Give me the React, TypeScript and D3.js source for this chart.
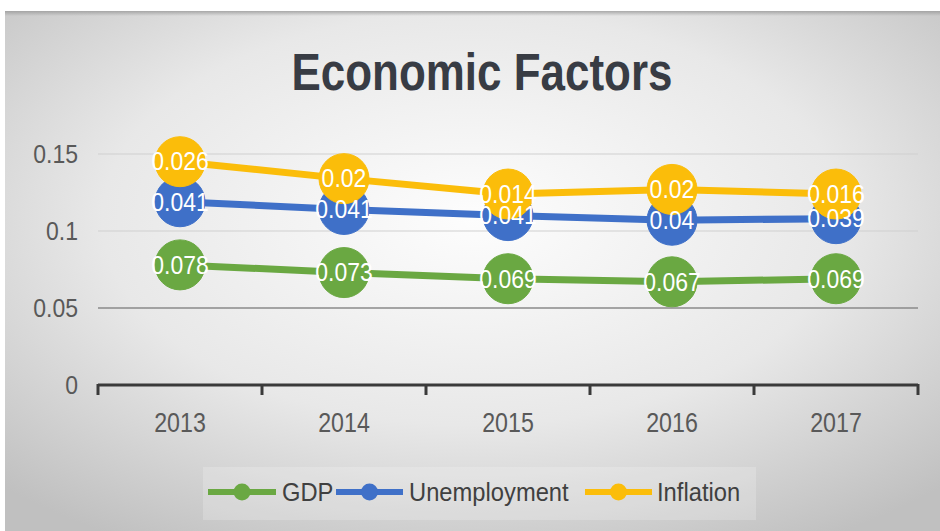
import React from "react";
import * as d3 from "d3";

const years = ["2013", "2014", "2015", "2016", "2017"];
const gdp = [0.078, 0.073, 0.069, 0.067, 0.069];
const unemployment = [0.041, 0.041, 0.041, 0.04, 0.039];
const inflation = [0.026, 0.02, 0.014, 0.02, 0.016];
const seriesNames = ["GDP", "Unemployment", "Inflation"];
const yTicks = [0, 0.05, 0.1, 0.15];
const yTickLabels = ["0", "0.05", "0.1", "0.15"];
const colors = ["#6aa842", "#3f70c8", "#fbbd0a"];

const W = 940;
const H = 531;
const FONT = "'Liberation Sans', Arial, sans-serif";

function NarrowText(props: {
  x: number;
  y: number;
  sx: number;
  anchor?: string;
  size: number;
  fill: string;
  weight?: string;
  children: React.ReactNode;
}) {
  return (
    <g transform={`translate(${props.x},${props.y}) scale(${props.sx},1)`}>
      <text
        x={0}
        y={0}
        dy="0.35em"
        textAnchor={props.anchor || "start"}
        fontFamily={FONT}
        fontSize={props.size}
        fontWeight={props.weight || "normal"}
        fill={props.fill}
      >
        {props.children}
      </text>
    </g>
  );
}

export default function App() {
  const x = d3.scaleBand<string>().domain(years).range([98, 918]);
  const y = d3.scaleLinear().domain([0, 0.15]).range([385, 154]);

  const rows = years.map((yr, i) => ({
    year: yr,
    GDP: gdp[i],
    Unemployment: unemployment[i],
    Inflation: inflation[i],
  }));
  const stacked = d3.stack<any>().keys(seriesNames)(rows);
  const cx = (yr: string) => (x(yr) as number) + x.bandwidth() / 2;
  const line = d3
    .line<any>()
    .x((d) => cx(d.data.year))
    .y((d) => y(d[1]));

  const bounds = [...years.map((yr) => x(yr) as number), x.range()[1]];

  const legendItems = [
    { name: "GDP", l1: 208, l2: 276, tx: 282 },
    { name: "Unemployment", l1: 336, l2: 403, tx: 409 },
    { name: "Inflation", l1: 585, l2: 652, tx: 657 },
  ];

  return (
    <svg
      width={W}
      height={H}
      style={{ position: "absolute", left: 0, top: 0, display: "block" }}
    >
      <defs>
        <radialGradient id="bg" cx="50%" cy="40%" r="72%">
          <stop offset="0%" stopColor="#fdfdfd" />
          <stop offset="55%" stopColor="#e8e8e8" />
          <stop offset="100%" stopColor="#c0c0c0" />
        </radialGradient>
        <linearGradient id="topshade" x1="0" y1="0" x2="0" y2="1">
          <stop offset="0%" stopColor="#9a9a9a" stopOpacity="0.8" />
          <stop offset="100%" stopColor="#9a9a9a" stopOpacity="0" />
        </linearGradient>
      </defs>
      <rect x={0} y={0} width={W} height={H} fill="#ffffff" />
      <rect x={5} y={11} width={W - 5} height={H - 11} fill="url(#bg)" />
      <rect x={5} y={11} width={W - 5} height={5} fill="url(#topshade)" />

      {/* title */}
      <text
        x={482}
        y={90}
        textAnchor="middle"
        fontFamily={FONT}
        fontWeight="bold"
        fontSize={51}
        fill="#383c44"
        textLength={381}
        lengthAdjust="spacingAndGlyphs"
      >
        Economic Factors
      </text>

      {/* gridlines */}
      {yTicks.slice(1).map((t) => (
        <line
          key={"g" + t}
          x1={98}
          x2={918}
          y1={y(t)}
          y2={y(t)}
          stroke={t === 0.05 ? "#8a8a8a" : "#cfcfcf"}
          strokeWidth={t === 0.05 ? 1.6 : 1.2}
        />
      ))}

      {/* y labels */}
      {yTicks.map((t, i) => (
        <NarrowText
          key={"yl" + t}
          x={78}
          y={y(t)}
          sx={0.92}
          anchor="end"
          size={25}
          fill="#595959"
        >
          {yTickLabels[i]}
        </NarrowText>
      ))}

      {/* x axis */}
      <line x1={98} x2={918} y1={385} y2={385} stroke="#3a3a3a" strokeWidth={3} />
      {bounds.map((b, i) => (
        <line
          key={"t" + i}
          x1={b}
          x2={b}
          y1={384}
          y2={395}
          stroke="#3a3a3a"
          strokeWidth={3}
        />
      ))}
      {years.map((yr) => (
        <NarrowText
          key={"xl" + yr}
          x={cx(yr)}
          y={423}
          sx={0.86}
          anchor="middle"
          size={27}
          fill="#595959"
        >
          {yr}
        </NarrowText>
      ))}

      {/* series */}
      {stacked.map((s, si) => (
        <g key={"s" + si}>
          <path
            d={line(s as any) as string}
            fill="none"
            stroke={colors[si]}
            strokeWidth={7}
            strokeLinejoin="round"
          />
          {s.map((d: any, i: number) => (
            <circle
              key={i}
              cx={cx(d.data.year)}
              cy={y(d[1])}
              r={25}
              fill={colors[si]}
              stroke={colors[si]}
              strokeWidth={1}
            />
          ))}
        </g>
      ))}

      {/* data labels */}
      {stacked.map((s, si) =>
        s.map((d: any, i: number) => (
          <NarrowText
            key={"dl" + si + "-" + i}
            x={cx(d.data.year)}
            y={y(d[1])}
            sx={0.92}
            anchor="middle"
            size={25}
            fill="#ffffff"
          >
            {String(d.data[seriesNames[si]])}
          </NarrowText>
        ))
      )}

      {/* legend */}
      <rect x={203} y={467} width={553} height={53} fill="#ffffff" opacity={0.2} />
      {legendItems.map((it, i) => (
        <g key={"lg" + i}>
          <line
            x1={it.l1}
            x2={it.l2}
            y1={492}
            y2={492}
            stroke={colors[i]}
            strokeWidth={6}
          />
          <circle cx={(it.l1 + it.l2) / 2} cy={492} r={8.5} fill={colors[i]} />
          <NarrowText x={it.tx} y={492} sx={0.95} size={25} fill="#404040">
            {it.name}
          </NarrowText>
        </g>
      ))}
    </svg>
  );
}
